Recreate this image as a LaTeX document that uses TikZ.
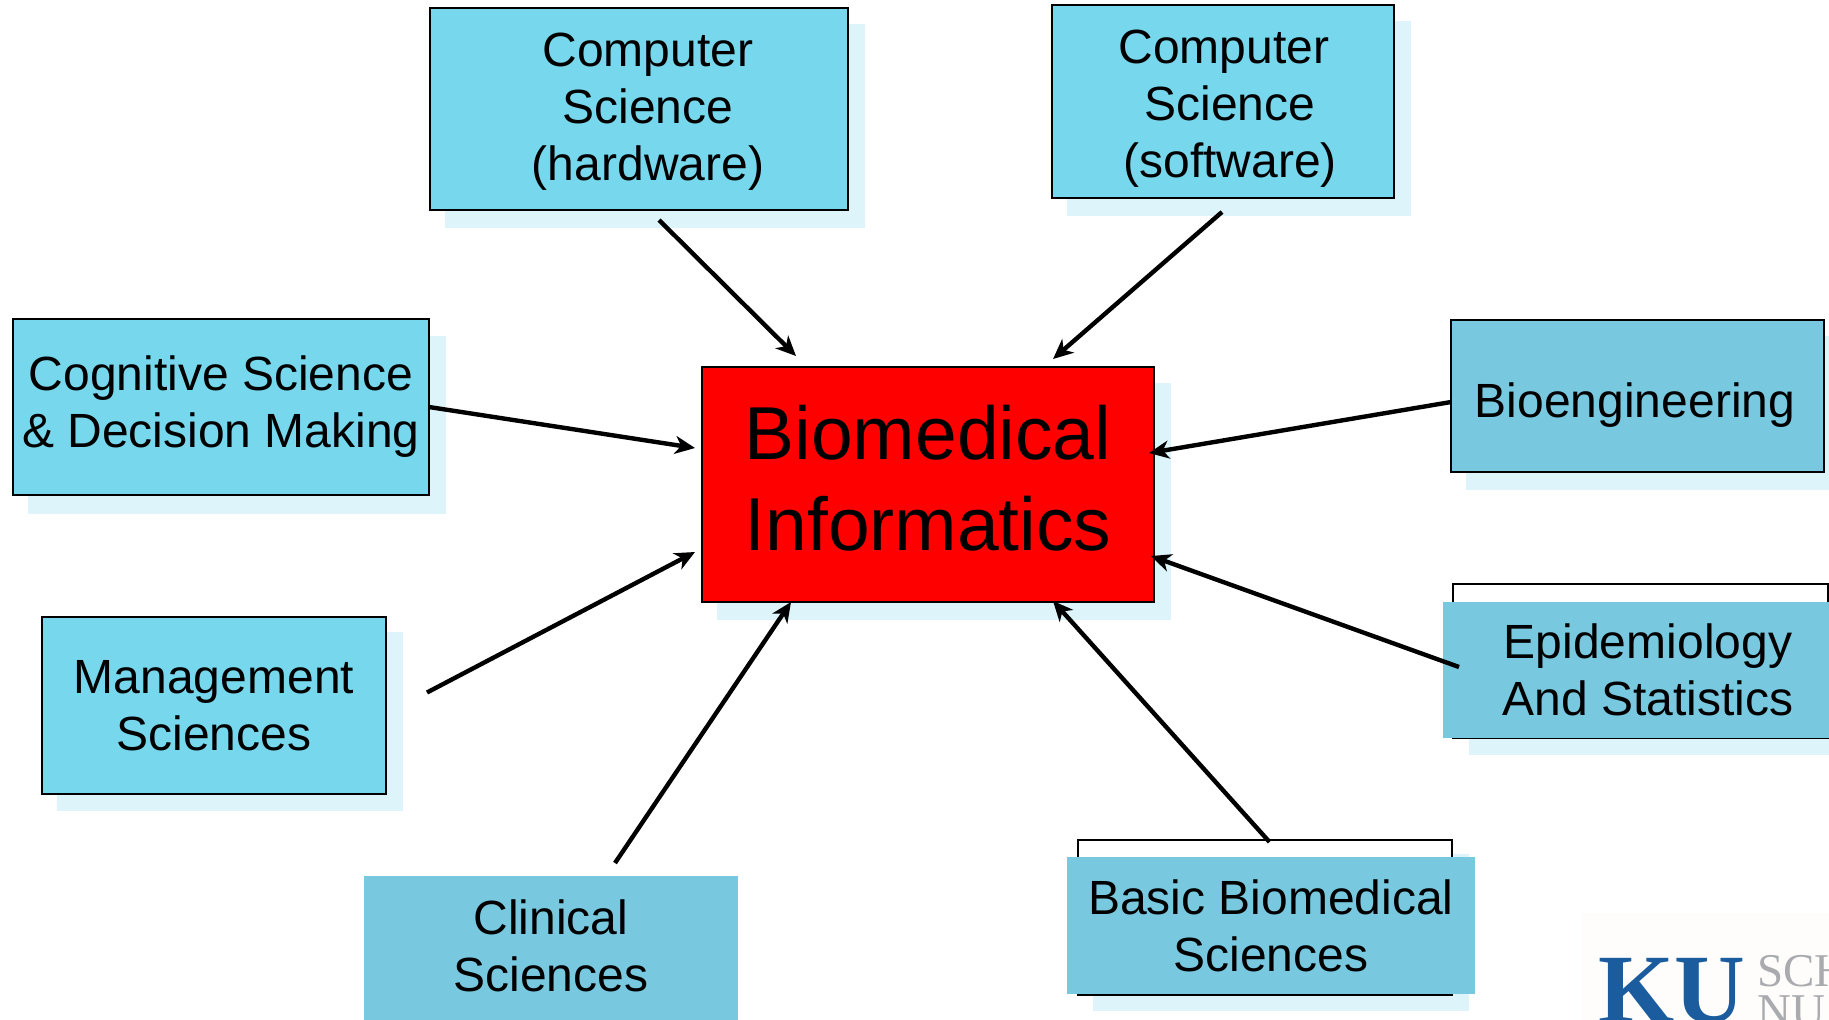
\documentclass[tikz,border=0pt]{standalone}
\usepackage{fontspec}
\setmainfont{Liberation Sans}
\newfontfamily\logofont{Liberation Serif}
\usetikzlibrary{arrows.meta}
\definecolor{brightblue}{HTML}{77D7EC}
\definecolor{dullblue}{HTML}{78C9E0}
\definecolor{paleblue}{HTML}{DDF5FA}
\definecolor{logoblue}{HTML}{1B5C9E}
\definecolor{logogrey}{HTML}{A9ABAE}
\definecolor{logoback}{HTML}{FEFDFB}
\tikzset{
  shadowbox/.style={fill=paleblue,inner sep=0,outer sep=0},
  bluebox/.style={draw=black,line width=1.4pt,fill=brightblue,inner sep=0,outer sep=0,align=center,font=\fontsize{24pt}{28.5pt}\selectfont},
  dullbox/.style={fill=dullblue,inner sep=0,outer sep=0,align=center,font=\fontsize{24pt}{28.5pt}\selectfont},
  framebox/.style={draw=black,line width=1.4pt,fill=white,inner sep=0,outer sep=0},
  boxtext/.style={inner sep=0,outer sep=0,align=center,font=\fontsize{24pt}{28.5pt}\selectfont},
  link/.style={draw=black,line width=2.2pt,-{Stealth[length=10pt,width=9pt,inset=3pt]}}
}
\begin{document}
\begin{tikzpicture}[x=0.5pt,y=-0.5pt]
  \useasboundingbox (0,0) rectangle (1829,1019);
  \node[shadowbox,minimum width=210pt,minimum height=102pt] (hwshadow) at (655,126) {};
  \node[shadowbox,minimum width=172pt,minimum height=97.5pt] (swshadow) at (1239,118.5) {};
  \node[shadowbox,minimum width=209pt,minimum height=89pt] (cogshadow) at (237,425) {};
  \node[shadowbox,minimum width=173pt,minimum height=89.5pt] (mgmtshadow) at (230,721.5) {};
  \node[shadowbox,minimum width=227pt,minimum height=118.5pt] (bmishadow) at (944,501.5) {};
  \node[shadowbox,minimum width=187.5pt,minimum height=77pt] (bioshadow) at (1653.5,413) {};
  \node[shadowbox,minimum width=205pt,minimum height=69pt] (epishadow) at (1674,686) {};
  \node[shadowbox,minimum width=188pt,minimum height=78.5pt] (basicshadow) at (1281,932.5) {};

  \node[bluebox,minimum width=209pt,minimum height=101pt] (hw) at (639,109) {};
  \node[boxtext] (hwtext) at (648,112) {Computer\\Science\\(hardware)};
  \node[bluebox,minimum width=171pt,minimum height=96.5pt] (sw) at (1223,101.5) {};
  \node[boxtext] (swtext) at (1230,109) {Computer\hspace*{6pt}\\Science\\(software)};
  \node[bluebox,minimum width=208pt,minimum height=88pt] (cog) at (221,407) {Cognitive Science\\\& Decision Making};
  \node[bluebox,minimum width=172pt,minimum height=88.5pt] (mgmt) at (214,705.5) {Management\\Sciences};
  \node[bluebox,minimum width=186.5pt,minimum height=76pt,fill=dullblue] (bio) at (1637.5,396) {};
  \node[boxtext] (biotext) at (1635,405) {Bioengineering};
  \node[framebox,minimum width=187.5pt,minimum height=77pt] (epiframe) at (1640.5,661) {};
  \node[dullbox,minimum width=205pt,minimum height=68pt] (epi) at (1648,670) {Epidemiology\\And Statistics};
  \node[framebox,minimum width=187pt,minimum height=77.5pt] (basicframe) at (1265,917.5) {};
  \node[dullbox,minimum width=204pt,minimum height=68.5pt] (basic) at (1271,925.5) {Basic Biomedical\\Sciences};
  \node[dullbox,minimum width=187pt,minimum height=73pt] (clin) at (551,949) {};
  \node[boxtext] (clintext) at (551,946) {Clinical\\Sciences};
  \node[draw=black,line width=1.4pt,fill=red,inner sep=0,outer sep=0,minimum width=226pt,minimum height=117.5pt] (bmi) at (928,484.5) {};
  \node[inner sep=0,outer sep=0,align=center,font=\fontsize{37.5pt}{45.5pt}\selectfont] (bmitext) at (928,478.5) {Biomedical\\Informatics};

  \node[fill=logoback,inner sep=0,outer sep=0,minimum width=130pt,minimum height=60pt] (kuback) at (1712,973) {};
  \node[inner sep=0,anchor=base west,text=logoblue,font=\logofont\bfseries\fontsize{49pt}{49pt}\selectfont] (kumark) at (1598,1022) {KU};
  \node[inner sep=0,anchor=base west,text=logogrey,align=left,font=\logofont\fontsize{23.5pt}{20pt}\selectfont] (kuschool) at (1757,1026) {SCH\\NU};

  \draw[link] ([shift={(20,10)}]hw.south) -- ([shift={(-132,-11)}]bmi.north);
  \draw[link] ([shift={(-1,14)}]sw.south) -- ([shift={(125,-8)}]bmi.north);
  \draw[link] (cog.east) -- ([shift={(-7,-36.5)}]bmi.west);
  \draw[link] ([shift={(0,6)}]bio.west) -- ([shift={(-5,-31.5)}]bmi.east);
  \draw[link] ([shift={(41,-13)}]mgmt.east) -- ([shift={(-7,67.5)}]bmi.west);
  \draw[link] ([shift={(16,-3)}]epi.west) -- ([shift={(-3,71.5)}]bmi.east);
  \draw[link] ([shift={(64,-13)}]clin.north) -- ([shift={(-137,0)}]bmi.south);
  \draw[link] ([shift={(-1.5,-15)}]basic.north) -- ([shift={(125,-1)}]bmi.south);
\end{tikzpicture}
\end{document}
